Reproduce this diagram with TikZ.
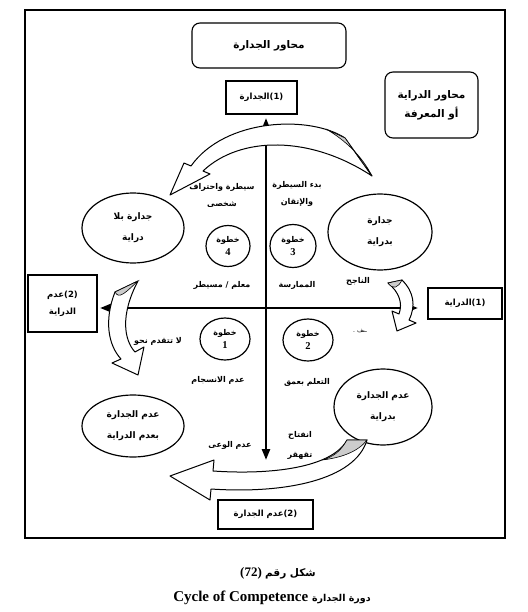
\documentclass[tikz,border=0pt]{standalone}
\usepackage{fontspec}
\setmainfont{Liberation Serif}
\newfontfamily\ar[Script=Arabic]{DejaVu Sans}
\TeXXeTstate=1
\usetikzlibrary{arrows.meta,shapes.geometric}
\tikzset{
 axbox/.style={draw,line width=1.1pt,inner sep=0pt,align=center,font=\ar\bfseries\fontsize{8.5}{17}\selectfont},
 rbox/.style={axbox,rounded corners=8pt,font=\ar\bfseries\fontsize{10.5}{19}\selectfont},
 bigell/.style={draw,ellipse,line width=1.2pt,inner sep=0pt,align=center,font=\ar\bfseries\fontsize{9}{21}\selectfont},
 stepell/.style={draw,ellipse,line width=1.2pt,inner sep=0pt,align=center,font=\ar\bfseries\fontsize{8}{13}\selectfont},
 lbl/.style={font=\ar\bfseries\fontsize{8}{17}\selectfont,align=center,inner sep=0pt},
 axis/.style={line width=2.4pt,{Triangle[length=11pt,width=8pt]}-{Triangle[length=11pt,width=8pt]}},
 barrow/.style={draw,line width=1pt,fill=white,line join=round},
 shadeb/.style={fill=gray!40,draw,line width=0.6pt},
}
\newcommand{\dig}[1]{{\rmfamily\bfseries\fontsize{10.5}{12}\selectfont #1}}
\begin{document}
\begin{tikzpicture}[x=1pt,y=-1pt]
\useasboundingbox (0,0) rectangle (527,612);
\draw[line width=1.2pt] (25,10) rectangle (505,538);

% boxes
\node[rbox,minimum width=154pt,minimum height=45pt] (hdr) at (269,45.5) {\beginR محاور الجدارة\endR};
\node[rbox,minimum width=93pt,minimum height=66pt] (know) at (431.5,105) {\beginR محاور الدراية\endR\\\beginR أو المعرفة\endR};
\node[axbox,minimum width=71pt,minimum height=33pt] (comp) at (261.5,97.5) {\hbox{\beginR الجدارة\endR}\hbox{(1)}};
\node[axbox,minimum width=69pt,minimum height=57pt] (unaw) at (62.5,303.5) {\hbox{\beginR عدم\endR}\hbox{(2)}\\\beginR الدراية\endR};
\node[axbox,minimum width=74pt,minimum height=31pt] (aw) at (465,303.5) {\hbox{\beginR الدراية\endR}\hbox{(1)}};
\node[axbox,minimum width=95pt,minimum height=29pt] (incomp) at (265.5,514.5) {\hbox{\beginR عدم الجدارة\endR}\hbox{(2)}};

% axes
\coordinate (vtop) at (266,118);
\coordinate (vbot) at (266,460);
\coordinate (hl) at (100,308);
\coordinate (hr) at (418,308);
\draw[axis] (vbot) -- (vtop);
\draw[axis] (hl) -- (hr);

% big ellipses
\node[bigell,minimum width=102pt,minimum height=70pt] (e1) at (133,228) {\beginR جدارة بلا\endR\\\beginR دراية\endR};
\node[bigell,minimum width=104pt,minimum height=76pt] (e2) at (380,232) {\beginR جدارة\endR\\\beginR بدراية\endR};
\node[bigell,minimum width=102pt,minimum height=62pt] (e3) at (133,426) {\beginR عدم الجدارة\endR\\\beginR بعدم الدراية\endR};
\node[bigell,minimum width=98pt,minimum height=76pt] (e4) at (383,407) {\beginR عدم الجدارة\endR\\\beginR بدراية\endR};

% step circles
\node[stepell,minimum width=44pt,minimum height=41pt] (s4) at (228,246) {\beginR خطوة\endR\\\dig{4}};
\node[stepell,minimum width=46pt,minimum height=43pt] (s3) at (293,246) {\beginR خطوة\endR\\\dig{3}};
\node[stepell,minimum width=50pt,minimum height=42pt] (s1) at (225,339) {\beginR خطوة\endR\\\dig{1}};
\node[stepell,minimum width=50pt,minimum height=42pt] (s2) at (308,340) {\beginR خطوة\endR\\\dig{2}};

% labels
\node[lbl] (t1) at (222,195) {\beginR سيطرة واحتراف\endR\\\beginR شخصى\endR};
\node[lbl] (t2) at (297,194) {\beginR بدء السيطرة\endR\\\beginR والإتقان\endR};
\node[lbl] (t3) at (222,285) {\beginR معلم / مسيطر\endR};
\node[lbl] (t4) at (297,285) {\beginR الممارسة\endR};
\node[lbl] (t5) at (358,281) {\beginR الناجح\endR};
\node[lbl,font=\ar\fontsize{6}{8}\selectfont] (t6) at (360,331) {\beginR ـىف .\endR};
\node[lbl] (t7) at (158,341) {\beginR لا تتقدم نحو\endR};
\node[lbl] (t8) at (218,380) {\beginR عدم الانسجام\endR};
\node[lbl] (t9) at (307,382) {\beginR التعلم بعمق\endR};
\node[lbl] (t10) at (230,445) {\beginR عدم الوعى\endR};
\node[lbl,font=\ar\bfseries\fontsize{8}{20}\selectfont] (t11) at (300,445) {\beginR انفتاح\endR\\\beginR تقهقر\endR};

% curved block arrows
% top
\draw[barrow] (345,138) .. controls (310,115) and (225,118) .. (191,166) -- (184,163) -- (170,195) -- (210,174) -- (203,171) .. controls (240,136) and (310,135) .. (372,176) -- cycle;
\draw[shadeb] (345,138) -- (326,129) .. controls (345,140) and (362,156) .. (372,176) -- cycle;
% left
\draw[barrow] (115,292) .. controls (104,320) and (108,345) .. (121,359) -- (112,363) -- (138,375) -- (144,347) -- (135,352) .. controls (124,340) and (120,315) .. (138,281) -- cycle;
\draw[shadeb] (115,292) -- (138,281) .. controls (126,292) and (119,300) .. (115,292) -- cycle;
% right
\draw[barrow] (388,283) -- (402,280) .. controls (414,292) and (416,306) .. (409,320) -- (416,323) -- (397,331) -- (392,311) -- (399,314) .. controls (403,303) and (399,292) .. (388,283) -- cycle;
\draw[shadeb] (388,283) -- (402,280) .. controls (398,288) and (393,290) .. (388,283) -- cycle;
% bottom
\draw[barrow] (347,440) .. controls (332,468) and (270,475) .. (213,471) -- (214,460) -- (170,476) -- (210,500) -- (211,489) .. controls (285,494) and (355,480) .. (367,440) -- cycle;
\draw[shadeb] (347,440) .. controls (340,452) and (333,457) .. (322,460) .. controls (340,458) and (358,452) .. (367,440) -- cycle;

% caption
\node[inner sep=0pt] (cap1) at (278,573) {\bfseries\fontsize{13}{15}\selectfont (72) {\ar\fontsize{10.5}{15}\selectfont\beginR شكل رقم\endR}};
\node[inner sep=0pt] (cap2) at (272,598) {\bfseries\fontsize{15}{17}\selectfont Cycle of Competence {\ar\fontsize{9.5}{15}\selectfont\beginR دورة الجدارة\endR}};
\end{tikzpicture}
\end{document}
